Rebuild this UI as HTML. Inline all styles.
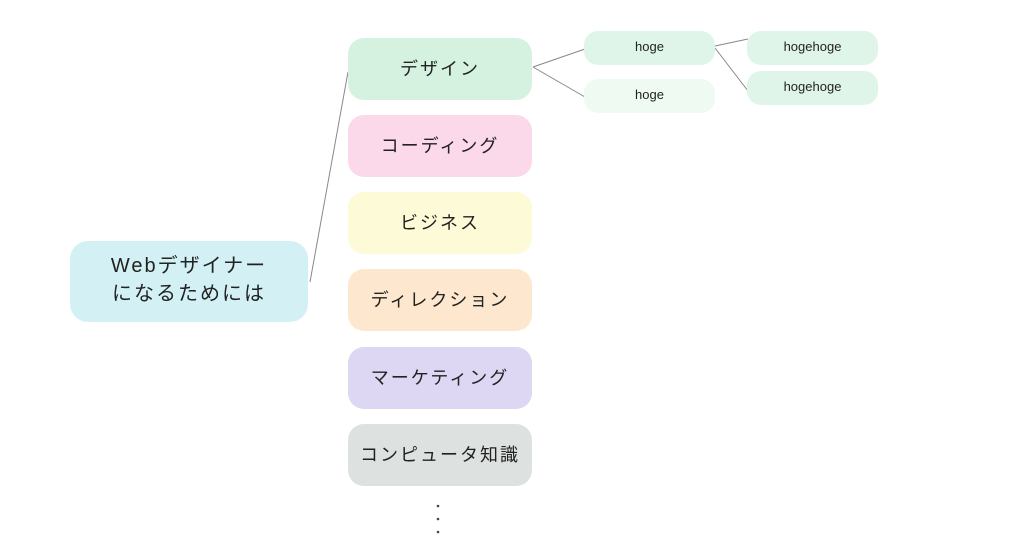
<!DOCTYPE html>
<html><head><meta charset="utf-8"><style>
body{margin:0;width:1024px;height:538px;background:#fff;position:relative;overflow:hidden;font-family:"Liberation Sans","Noto Sans CJK JP",sans-serif;color:#222}
.b{position:absolute;display:flex;align-items:center;justify-content:center;text-align:center;border-radius:16px;box-sizing:border-box}
.m{left:348px;width:184px;height:62px;font-size:18px;letter-spacing:2px;padding-bottom:2px}
.s{width:131px;height:34px;border-radius:14px;font-size:13px;padding-bottom:3px}
svg{position:absolute;left:0;top:0}
</style></head><body>
<svg width="1024" height="538"><g stroke="#888" stroke-width="1" fill="none">
<line x1="310" y1="282" x2="348" y2="72"/>
<line x1="533" y1="67" x2="585" y2="49"/>
<line x1="533" y1="67" x2="585" y2="97"/>
<line x1="715" y1="46" x2="748" y2="39"/>
<line x1="715" y1="48" x2="748" y2="91"/>
</g>
<g fill="#444"><circle cx="438" cy="506" r="1.3"/><circle cx="438" cy="519" r="1.3"/><circle cx="438" cy="532" r="1.3"/></g>
</svg>
<div class="b" style="left:70px;top:241px;width:238px;height:81px;background:#d3f1f4;font-size:20px;letter-spacing:2px;line-height:28px;border-radius:18px;padding-bottom:4px">Webデザイナー<br>になるためには</div>
<div class="b m" style="top:38px;background:#d5f2e1">デザイン</div>
<div class="b m" style="top:115px;background:#fbd9ea">コーディング</div>
<div class="b m" style="top:192px;background:#fdfbd7">ビジネス</div>
<div class="b m" style="top:269px;background:#fde8cf">ディレクション</div>
<div class="b m" style="top:347px;background:#ded7f3">マーケティング</div>
<div class="b m" style="top:424px;background:#dde1df">コンピュータ知識</div>
<div class="b s" style="left:584px;top:31px;background:#e0f5e9">hoge</div>
<div class="b s" style="left:584px;top:79px;background:#eefaf2">hoge</div>
<div class="b s" style="left:747px;top:31px;background:#e0f5e9">hogehoge</div>
<div class="b s" style="left:747px;top:71px;background:#e0f5e9">hogehoge</div>
</body></html>
